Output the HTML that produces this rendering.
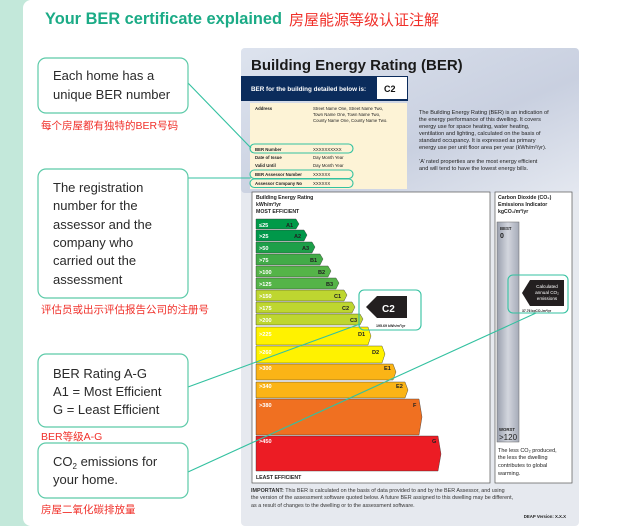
<!DOCTYPE html>
<html><head><meta charset="utf-8"><style>
html,body{margin:0;padding:0;width:644px;height:526px;overflow:hidden;background:#fff}
svg{display:block}
</style></head><body>
<svg width="644" height="526" viewBox="0 0 644 526" xmlns="http://www.w3.org/2000/svg" font-family="Liberation Sans, sans-serif">
<defs>
<linearGradient id="hd" x1="0" y1="0" x2="1" y2="1"><stop offset="0" stop-color="#dde3ee"/><stop offset="0.6" stop-color="#c9d0e0"/><stop offset="1" stop-color="#e4e8f0"/></linearGradient>
<linearGradient id="co" x1="0" y1="0" x2="1" y2="0"><stop offset="0" stop-color="#9aa0ae"/><stop offset="0.5" stop-color="#d3d6de"/><stop offset="1" stop-color="#a6abb8"/></linearGradient>
</defs>
<rect width="644" height="526" fill="#fff"/>
<rect x="0" y="0" width="30" height="526" fill="#c3e8da"/>
<rect x="23" y="0" width="60" height="526" fill="#fff" rx="8"/>
<text x="45" y="24" font-size="17" font-weight="bold" fill="#1bab86" textLength="237" lengthAdjust="spacingAndGlyphs">Your BER certificate explained</text>
<text x="289" y="25" font-size="15" fill="#f0302a" font-family="Liberation Sans, Noto Sans CJK SC, sans-serif">房屋能源等级认证注解</text>

<rect x="241" y="48" width="338" height="478" fill="#e6e9ef" rx="4"/>
<rect x="241" y="48" width="338" height="145" fill="url(#hd)" rx="4"/>
<text x="251" y="70" font-size="15" font-weight="bold" fill="#1a1a1a">Building Energy Rating (BER)</text>
<rect x="241" y="76" width="167" height="25" fill="#0b2c5c"/>
<text x="251" y="91" font-size="6.3" font-weight="bold" fill="#fff">BER for the building detailed below is:</text>
<rect x="377" y="77" width="30" height="22" fill="#fff"/>
<text x="384" y="92" font-size="9" font-weight="bold" fill="#111">C2</text>
<rect x="250" y="103" width="157" height="86" fill="#fdf3d6"/>
<g font-size="4.3" fill="#222">
<text x="255" y="110" font-weight="bold">Address</text>
<text x="313" y="110">Street Name One, Street Name Two,</text>
<text x="313" y="116">Town Name One, Town Name Two,</text>
<text x="313" y="122">County Name One, County Name Two.</text>
<text x="255" y="151" font-weight="bold">BER Number</text><text x="313" y="151">XXXXXXXXXX</text>
<text x="255" y="159" font-weight="bold">Date of Issue</text><text x="313" y="159">Day  Month  Year</text>
<text x="255" y="167" font-weight="bold">Valid Until</text><text x="313" y="167">Day  Month  Year</text>
<text x="255" y="176" font-weight="bold">BER Assessor Number</text><text x="313" y="176">XXXXXX</text>
<text x="255" y="185" font-weight="bold">Assessor Company No</text><text x="313" y="185">XXXXXX</text>
</g>
<g font-size="5.6" fill="#222">
<text x="419" y="114">The Building Energy Rating (BER) is an indication of</text>
<text x="419" y="121">the energy performance of this dwelling.  It covers</text>
<text x="419" y="128">energy use for space heating, water heating,</text>
<text x="419" y="135">ventilation and lighting, calculated on the basis of</text>
<text x="419" y="142">standard occupancy. It is expressed as primary</text>
<text x="419" y="149">energy use per unit floor area per year (kWh/m²/yr).</text>
<text x="419" y="163">‘A’ rated properties are the most energy efficient</text>
<text x="419" y="170">and will tend to have the lowest energy bills.</text>
</g>
<rect x="252" y="192" width="238" height="291" fill="#fff" stroke="#555" stroke-width="0.7"/>
<rect x="495" y="192" width="77" height="291" fill="#fff" stroke="#555" stroke-width="0.7"/>
<g font-size="5.2" font-weight="bold" fill="#222">
<text x="256" y="199">Building Energy Rating</text>
<text x="256" y="206">kWh/m²/yr</text>
<text x="256" y="213">MOST EFFICIENT</text>
<text x="256" y="479">LEAST EFFICIENT</text>
<text x="498" y="199">Carbon Dioxide (CO₂)</text>
<text x="498" y="206">Emissions Indicator</text>
<text x="498" y="213">kgCO₂/m²/yr</text>
</g>
<g stroke="#333" stroke-width="0.4">
<polygon points="256,219 296,219 299,224 296,229 256,229" fill="#009a48"/>
<polygon points="256,230 304,230 307,235 304,241 256,241" fill="#00984a"/>
<polygon points="256,242 312,242 315,247 312,253 256,253" fill="#1d9f49"/>
<polygon points="256,254 320,254 323,259 320,265 256,265" fill="#42ab48"/>
<polygon points="256,266 328,266 331,271 328,277 256,277" fill="#55b448"/>
<polygon points="256,278 336,278 339,283 336,289 256,289" fill="#55b448"/>
<polygon points="256,290 344,290 347,295 344,301 256,301" fill="#bed630"/>
<polygon points="256,302 352,302 355,307 352,313 256,313" fill="#bed630"/>
<polygon points="256,314 360,314 363,319 360,325 256,325" fill="#bed630"/>
<polygon points="256,327 368,327 371,336 368,345 256,345" fill="#fff200"/>
<polygon points="256,346 382,346 385,354 382,363 256,363" fill="#fff200"/>
<polygon points="256,364 393,364 396,372 393,380 256,380" fill="#fbb416"/>
<polygon points="256,382 405,382 408,390 405,398 256,398" fill="#fbb416"/>
<polygon points="256,399 419,399 422,417 419,435 256,435" fill="#f07021"/>
<polygon points="256,436 438,436 441,454 438,471 256,471" fill="#ec1c24"/>
</g>
<g font-size="5.6" font-weight="bold" fill="#fff">
<text x="259" y="227">≤25</text><text x="286" y="227" fill="#222">A1</text>
<text x="259" y="238">&gt;25</text><text x="294" y="238" fill="#222">A2</text>
<text x="259" y="250">&gt;50</text><text x="302" y="250" fill="#222">A3</text>
<text x="259" y="262">&gt;75</text><text x="310" y="262" fill="#222">B1</text>
<text x="259" y="274">&gt;100</text><text x="318" y="274" fill="#222">B2</text>
<text x="259" y="286">&gt;125</text><text x="326" y="286" fill="#222">B3</text>
<text x="259" y="298">&gt;150</text><text x="334" y="298" fill="#222">C1</text>
<text x="259" y="310">&gt;175</text><text x="342" y="310" fill="#222">C2</text>
<text x="259" y="322">&gt;200</text><text x="350" y="322" fill="#222">C3</text>
<text x="259" y="336">&gt;225</text><text x="358" y="336" fill="#222">D1</text>
<text x="259" y="354">&gt;260</text><text x="372" y="354" fill="#222">D2</text>
<text x="259" y="370">&gt;300</text><text x="384" y="370" fill="#222">E1</text>
<text x="259" y="388">&gt;340</text><text x="396" y="388" fill="#222">E2</text>
<text x="259" y="407">&gt;380</text><text x="413" y="407" fill="#222">F</text>
<text x="259" y="443">&gt;450</text><text x="432" y="443" fill="#222">G</text>
</g>
<polygon points="366,307 377,296 407,296 407,318 377,318" fill="#231f20"/>
<text x="382" y="312" font-size="10" font-weight="bold" fill="#fff">C2</text>
<text x="376" y="327" font-size="3.6" font-weight="bold" fill="#222">195.69 kWh/m²/yr</text>
<rect x="497" y="222" width="22" height="220" fill="url(#co)" stroke="#666" stroke-width="0.5"/>
<text x="500" y="230" font-size="4.3" font-weight="bold" fill="#222">BEST</text>
<text x="500" y="238" font-size="7" font-weight="bold" fill="#222">0</text>
<text x="499" y="431" font-size="4.3" font-weight="bold" fill="#222">WORST</text>
<text x="499" y="440" font-size="8" fill="#222">&gt;120</text>
<polygon points="522,293 530,280 564,280 564,306 530,306" fill="#231f20"/>
<g font-size="4.6" fill="#fff" text-anchor="middle"><text x="547" y="288">Calculated</text><text x="547" y="294">annual CO₂</text><text x="547" y="300">emissions</text></g>
<text x="522" y="312" font-size="3.4" font-weight="bold" fill="#222">37.76 kgCO₂/m²/yr</text>
<g font-size="5.5" fill="#222"><text x="498" y="452">The less CO₂ produced,</text><text x="498" y="459">the less the dwelling</text><text x="498" y="467">contributes to global</text><text x="498" y="475">warming.</text></g>
<g font-size="5.4" fill="#333"><text x="251" y="492"><tspan font-weight="bold">IMPORTANT:</tspan> This BER is calculated on the basis of data provided to and by the BER Assessor, and using</text>
<text x="251" y="499">the version of the assessment software quoted below.  A future BER assigned to this dwelling may be different,</text>
<text x="251" y="507">as a result of changes to the dwelling or to the assessment software.</text></g>
<text x="566" y="518" font-size="4.3" font-weight="bold" fill="#222" text-anchor="end">DEAP Version: X.X.X</text>

<g fill="none" stroke="#33c1a0" stroke-width="1.1">
<rect x="250" y="144" width="103" height="9" rx="4.5"/>
<rect x="250" y="170" width="103" height="8.5" rx="4.2"/>
<rect x="250" y="179" width="103" height="8.5" rx="4.2"/>
<rect x="359" y="290" width="62" height="40" rx="5"/>
<rect x="508" y="275" width="60" height="38" rx="5"/>
<line x1="188" y1="83" x2="251" y2="148"/>
<line x1="188" y1="178" x2="251" y2="178"/>
<line x1="188" y1="387" x2="360" y2="324"/>
<line x1="188" y1="472" x2="536" y2="313"/>
</g>

<g fill="#fff" stroke="#5ccaa8" stroke-width="1.2">
<rect x="38" y="58" width="150" height="55" rx="8"/>
<rect x="38" y="169" width="150" height="129" rx="8"/>
<rect x="38" y="354" width="150" height="73" rx="8"/>
<rect x="38" y="443" width="150" height="55" rx="8"/>
</g>
<g font-size="13" fill="#2a2a2a">
<text x="53" y="80">Each home has a</text>
<text x="53" y="99">unique BER number</text>
<text x="53" y="192">The registration</text>
<text x="53" y="210">number for the</text>
<text x="53" y="229">assessor and the</text>
<text x="53" y="247">company who</text>
<text x="53" y="265">carried out  the</text>
<text x="53" y="284">assessment</text>
<text x="53" y="378">BER Rating A-G</text>
<text x="53" y="396">A1 = Most Efficient</text>
<text x="53" y="414">G = Least Efficient</text>
<text x="53" y="466">CO<tspan font-size="8" dy="3">2</tspan><tspan dy="-3"> emissions for</tspan></text>
<text x="53" y="484">your home.</text>
</g>
<g font-size="10.5" fill="#f0302a" font-family="Liberation Sans, Noto Sans CJK SC, sans-serif">
<text x="41" y="129">每个房屋都有独特的BER号码</text>
<text x="41" y="313">评估员或出示评估报告公司的注册号</text>
<text x="41" y="440">BER等级A-G</text>
<text x="41" y="513">房屋二氧化碳排放量</text>
</g>
</svg>
</body></html>
